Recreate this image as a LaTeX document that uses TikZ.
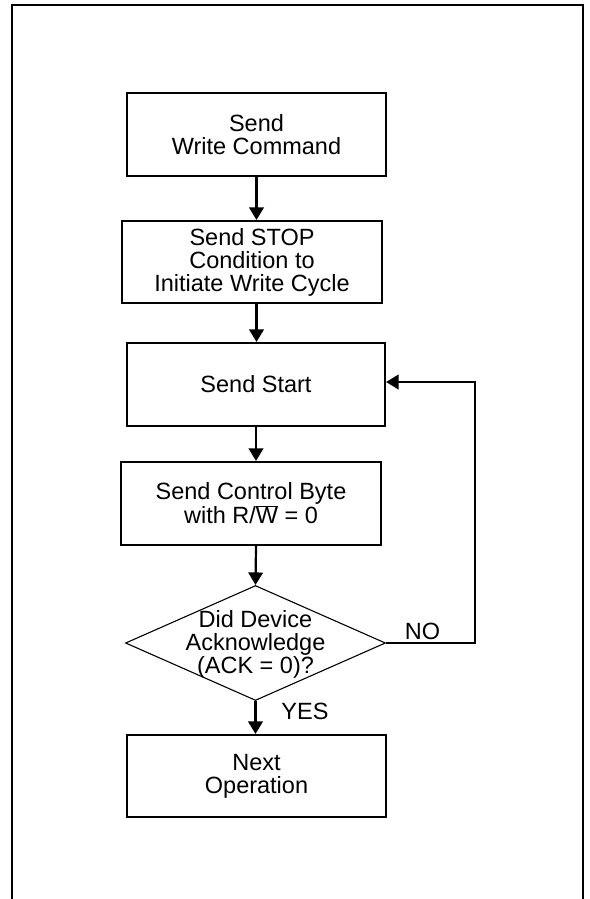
\documentclass[tikz,border=0pt]{standalone}
\usepackage{fontspec}
\setmainfont{Liberation Sans}
\usetikzlibrary{arrows.meta,shapes.geometric}
\begin{document}
\begin{tikzpicture}[x={(1pt,0)},y={(0,-1pt)},
  every node/.style={font=\fontsize{23.5}{23}\selectfont},
  stepbox/.style={draw, line width=2.1pt, rectangle, inner sep=0pt, align=center},
  decbox/.style={draw, line width=1.1pt, diamond, inner sep=0pt, minimum width=260pt, minimum height=115pt},
  lbl/.style={align=center, inner sep=0pt},
  arr/.style={line width=2.2pt, -{Triangle[length=12.5pt,width=14.5pt]}},
  frame/.style={line width=2.2pt}]
\useasboundingbox (0,0) rectangle (589,899);
\fill[white] (0,0) rectangle (589,899);
\draw[frame] (12,899) -- (12,5) -- (583,5) -- (583,899);
\node[stepbox, minimum width=259pt, minimum height=83pt] (b1) at (256.5,134.5) {Send\\Write Command};
\node[stepbox, minimum width=260pt, minimum height=82pt] (b2) at (252,262) {Send STOP\\Condition to\\Initiate Write Cycle};
\node[stepbox, minimum width=258pt, minimum height=83pt] (b3) at (256,384.5) {Send Start};
\node[stepbox, minimum width=260pt, minimum height=83pt] (b4) at (251,503.5) {Send Control Byte\\with R/$\overline{\hbox{W}}$ = 0};
\node[decbox] (dec) at (255.5,643) {};
\node[lbl] (dectxt) at (255.5,644) {Did Device\\Acknowledge\\(ACK = 0)?};
\node[stepbox, minimum width=259pt, minimum height=82pt] (b5) at (256.5,776) {Next\\Operation};
\node[lbl] (no) at (422.5,631) {NO};
\node[lbl] (yes) at (305,711) {YES};
\coordinate (fbTop) at (475,382);
\draw[arr] (b1.south) -- (b1.south |- b2.north);
\draw[arr] (b1.south |- b2.south) -- (b1.south |- b3.north);
\draw[arr] (b3.south) -- (b3.south |- b4.north);
\draw[arr] (b3.south |- b4.south) -- (dec.north);
\draw[arr] (dec.south) -- (dec.south |- b5.north);
\draw[arr] (dec.east) -| (fbTop) -- (fbTop -| b3.east);
\end{tikzpicture}
\end{document}
